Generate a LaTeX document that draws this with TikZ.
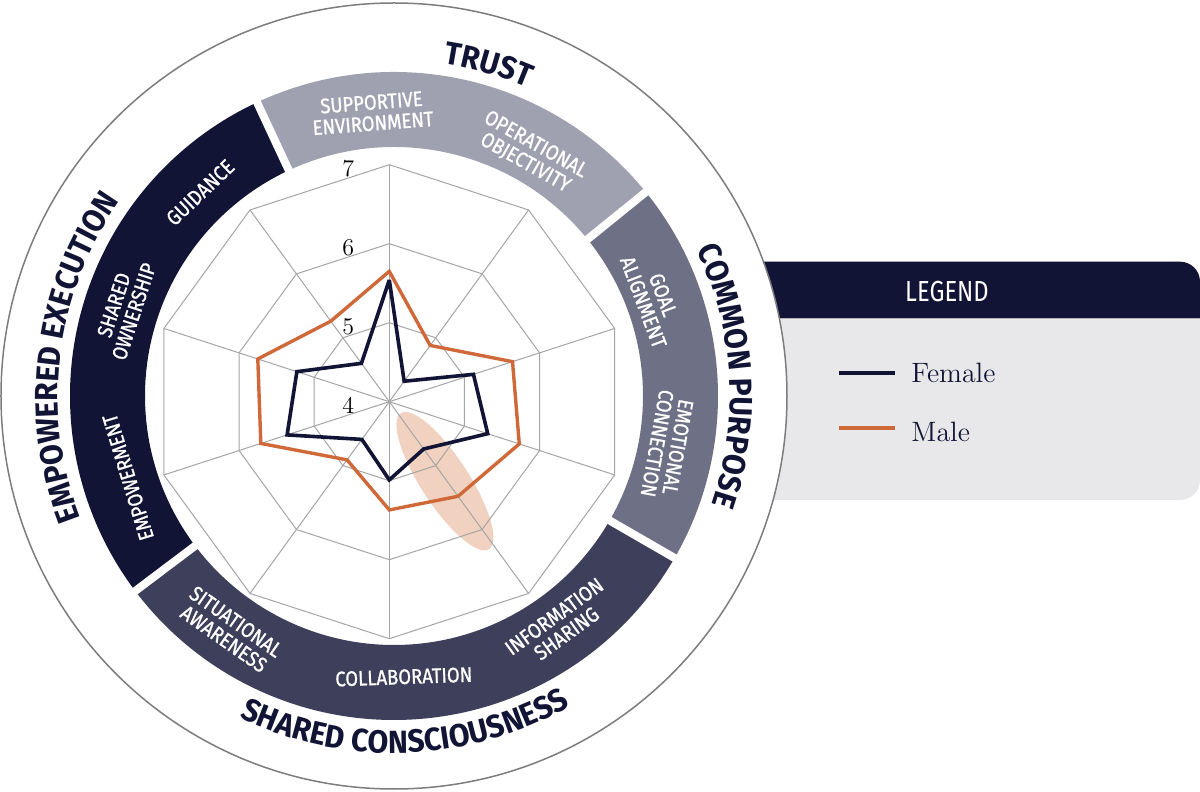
\documentclass[tikz,border=0pt]{standalone}
\usepackage{fontspec}
\usetikzlibrary{decorations.text}
\newfontfamily\bandfont[FakeStretch=0.88,FakeBold=1]{Fira Sans}
\newfontfamily\pillarfont[FakeStretch=0.94]{Fira Sans}
\newfontfamily\legendfont[FakeStretch=0.82]{Fira Sans}
\definecolor{darknavy}{RGB}{17,20,52}
\definecolor{trustgray}{RGB}{160,161,176}
\definecolor{purposegray}{RGB}{110,112,134}
\definecolor{sharedgray}{RGB}{62,63,91}
\definecolor{maleorange}{RGB}{207,105,57}
\definecolor{peach}{RGB}{241,209,192}
\definecolor{legendgray}{RGB}{232,232,234}
\definecolor{gridgray}{RGB}{165,165,165}
\definecolor{ringgray}{RGB}{125,125,125}
\newcommand{\pillar}{\pillarfont\bfseries\fontsize{16}{18}\selectfont}

\begin{document}
\begin{tikzpicture}[x=0.5pt,y=0.5pt,
    gridline/.style={draw=gridgray,line width=0.5pt},
    femaleline/.style={draw=darknavy,line width=1.8pt,miter limit=4},
    maleline/.style={draw=maleorange,line width=1.7pt,miter limit=4},
    bandlabel/.style={text=white,font=\bandfont\fontsize{10.5}{10.5}\selectfont,align=center,inner sep=0pt},
    ticklabel/.style={font=\fontsize{12}{12}\selectfont,inner sep=0pt},
    legendtext/.style={text=darknavy,font=\fontsize{14}{14}\selectfont,inner sep=0pt,anchor=base west},
    pillarlabel/.style={decorate,decoration={text along path,text align=center,text color=darknavy,text={|\pillar|#1}}}]
  \useasboundingbox (-394,-396) rectangle (806,396);

  \fill[legendgray,rounded corners=10pt] (306,-104) rectangle (806,134.3);
  \fill[darknavy,rounded corners=10pt] (306,77.7) rectangle (806,134.3);
  \fill[darknavy] (766,77.7) rectangle (806,100);
  \draw[gray!60,line width=0.4pt] (306,77.7) -- (806,77.7);
  \node[text=white,font=\legendfont\fontsize{14.5}{15}\selectfont] (legend) at (553,104.3) {LEGEND};
  \draw[femaleline,line width=2pt] (445,23.3) -- (501,23.3);
  \node[legendtext] (female) at (517,13.3) {Female};
  \draw[maleline,line width=2pt] (445,-32.3) -- (501,-32.3);
  \node[legendtext] (male) at (517,-45.7) {Male};

  \filldraw[fill=white,draw=ringgray,line width=0.75pt] (0,0) circle[radius=393];

  \foreach \s/\e/\c in {39/115/trustgray,115/217/darknavy,217/330/sharedgray,330/399/purposegray}
    \fill[\c] (\s:249) arc[start angle=\s,end angle=\e,radius=249] -- (\e:324) arc[start angle=\e,end angle=\s,radius=324] -- cycle;
  \foreach \a in {39,115,217,330}
    \draw[white,line width=4pt] (\a:240) -- (\a:335);

  \path[pillarlabel=TRUST] (114:336) arc[start angle=114,end angle=34,radius=336];
  \path[pillarlabel=COMMON PURPOSE] (43.5:336) arc[start angle=43.5,end angle=-36.5,radius=336];
  \path[pillarlabel=EMPOWERED EXECUTION] (213:336) arc[start angle=213,end angle=133,radius=336];
  \path[pillarlabel=SHARED CONSCIOUSNESS] (-148:357) arc[start angle=-148,end angle=-28,radius=357];

  \node[bandlabel,rotate=4.4] (supportive) at (94.4:284) {SUPPORTIVE\\ENVIRONMENT};
  \node[bandlabel,rotate=-29.4] (operational) at (60.6:278) {OPERATIONAL\\OBJECTIVITY};
  \node[bandlabel,rotate=-69.4] (goal) at (20.6:277) {GOAL\\ALIGNMENT};
  \node[bandlabel,rotate=-100.2] (emotional) at (-10.2:278) {EMOTIONAL\\CONNECTION};
  \node[bandlabel,rotate=36] (information) at (-54:283) {INFORMATION\\SHARING};
  \node[bandlabel,rotate=2] (collaboration) at (-88:281) {COLLABORATION};
  \node[bandlabel,rotate=-35] (situational) at (-125:286) {SITUATIONAL\\AWARENESS};
  \node[bandlabel,rotate=107] (empowerment) at (197:278) {EMPOWERMENT};
  \node[bandlabel,rotate=72] (ownership) at (162:284) {SHARED\\OWNERSHIP};
  \node[bandlabel,rotate=43.6] (guidance) at (133.6:281) {GUIDANCE};

  \begin{scope}[shift={(-4.7,-5.7)}]
    \coordinate (c) at (0,0);
    \fill[peach] (-55:97) circle[x radius=81,y radius=24,rotate=-57];
    \foreach \r in {79,158,237}
      \draw[gridline] (90:\r) \foreach \a in {54,18,...,-234} {-- (\a:\r)} -- cycle;
    \foreach \a in {90,54,...,-234}
      \draw[gridline] (c) -- (\a:237);
    \draw[femaleline] (90:{(5.54-4)*79}) \foreach \a/\v in {54/4.32,18/5.12,-18/5.31,-54/4.74,-90/4.99,-126/4.59,-162/5.36,-198/5.23,-234/4.60} {-- (\a:{(\v-4)*79})} -- cycle;
    \draw[maleline] (90:{(5.65-4)*79}) \foreach \a/\v in {54/4.88,18/5.64,-18/5.73,-54/5.48,-90/5.37,-126/4.91,-162/5.71,-198/5.75,-234/5.26} {-- (\a:{(\v-4)*79})} -- cycle;
    \foreach \v in {4,...,7}
      \node[ticklabel] (tick\v) at (-41,{(\v-4)*79-4}) {\v};
  \end{scope}
\end{tikzpicture}
\end{document}
